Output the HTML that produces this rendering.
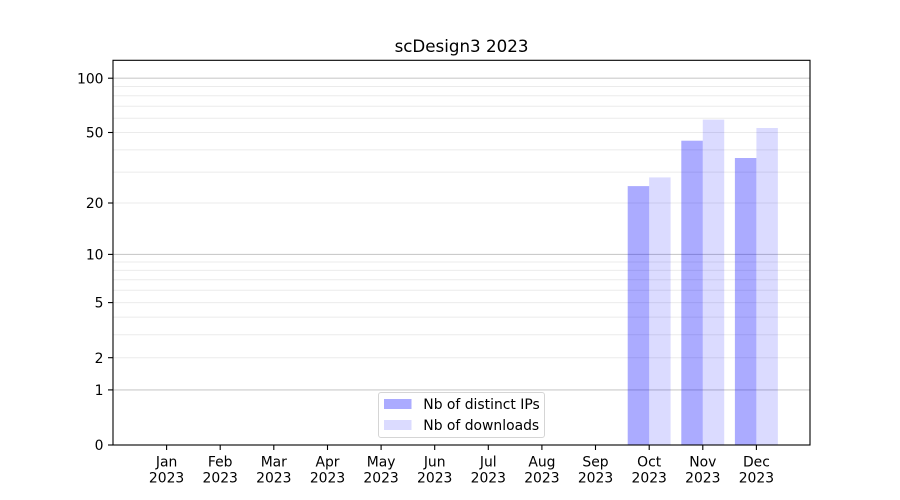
<!DOCTYPE html>
<html>
<head>
<meta charset="utf-8">
<style>
html,body{margin:0;padding:0;background:#fff;}
svg{display:block;}
text{font-family:"DejaVu Sans","Liberation Sans",sans-serif;fill:#000;}
</style>
</head>
<body>
<svg width="900" height="500" viewBox="0 0 900 500" xmlns="http://www.w3.org/2000/svg">
<rect x="0" y="0" width="900" height="500" fill="#fff"/>
<!-- minor gridlines -->
<g stroke="#ebebeb" stroke-width="1">
<line x1="113" x2="810" y1="357.7" y2="357.7"/>
<line x1="113" x2="810" y1="334.8" y2="334.8"/>
<line x1="113" x2="810" y1="317.1" y2="317.1"/>
<line x1="113" x2="810" y1="302.6" y2="302.6"/>
<line x1="113" x2="810" y1="290.3" y2="290.3"/>
<line x1="113" x2="810" y1="279.7" y2="279.7"/>
<line x1="113" x2="810" y1="270.4" y2="270.4"/>
<line x1="113" x2="810" y1="262.0" y2="262.0"/>
<line x1="113" x2="810" y1="203.0" y2="203.0"/>
<line x1="113" x2="810" y1="172.1" y2="172.1"/>
<line x1="113" x2="810" y1="149.9" y2="149.9"/>
<line x1="113" x2="810" y1="132.5" y2="132.5"/>
<line x1="113" x2="810" y1="118.3" y2="118.3"/>
<line x1="113" x2="810" y1="106.2" y2="106.2"/>
<line x1="113" x2="810" y1="95.75" y2="95.75"/>
<line x1="113" x2="810" y1="86.5" y2="86.5"/>
</g>
<!-- major gridlines -->
<g stroke="#cbcbcb" stroke-width="1.1">
<line x1="113" x2="810" y1="389.9" y2="389.9"/>
<line x1="113" x2="810" y1="254.4" y2="254.4"/>
<line x1="113" x2="810" y1="78.2" y2="78.2"/>
</g>
<!-- bars -->
<g>
<rect x="627.7" y="186.1" width="21.45" height="258.9" fill="#0000ff" fill-opacity="0.33"/>
<rect x="649.15" y="177.4" width="21.45" height="267.6" fill="#0000ff" fill-opacity="0.14"/>
<rect x="681.3" y="140.7" width="21.45" height="304.3" fill="#0000ff" fill-opacity="0.33"/>
<rect x="702.77" y="119.6" width="21.45" height="325.4" fill="#0000ff" fill-opacity="0.14"/>
<rect x="734.9" y="158.0" width="21.45" height="287.0" fill="#0000ff" fill-opacity="0.33"/>
<rect x="756.4" y="128.0" width="21.45" height="317.0" fill="#0000ff" fill-opacity="0.14"/>
</g>
<!-- axes frame -->
<rect x="113" y="60.3" width="697" height="384.7" fill="none" stroke="#000" stroke-width="1.1"/>
<!-- y ticks -->
<g stroke="#000" stroke-width="1.1">
<line x1="108" x2="113" y1="445" y2="445"/>
<line x1="108" x2="113" y1="389.9" y2="389.9"/>
<line x1="108" x2="113" y1="357.7" y2="357.7"/>
<line x1="108" x2="113" y1="302.6" y2="302.6"/>
<line x1="108" x2="113" y1="254.4" y2="254.4"/>
<line x1="108" x2="113" y1="203.0" y2="203.0"/>
<line x1="108" x2="113" y1="132.5" y2="132.5"/>
<line x1="108" x2="113" y1="78.2" y2="78.2"/>
</g>
<g font-size="13.9" text-anchor="end">
<text x="103.5" y="450">0</text>
<text x="103.5" y="395">1</text>
<text x="103.5" y="362.8">2</text>
<text x="103.5" y="307.7">5</text>
<text x="103.5" y="259.5">10</text>
<text x="103.5" y="208.1">20</text>
<text x="103.5" y="137.6">50</text>
<text x="103.5" y="83.3">100</text>
</g>
<!-- x ticks -->
<g stroke="#000" stroke-width="1.1">
<line x1="166.6" x2="166.6" y1="445" y2="450"/>
<line x1="220.2" x2="220.2" y1="445" y2="450"/>
<line x1="273.8" x2="273.8" y1="445" y2="450"/>
<line x1="327.5" x2="327.5" y1="445" y2="450"/>
<line x1="381.1" x2="381.1" y1="445" y2="450"/>
<line x1="434.7" x2="434.7" y1="445" y2="450"/>
<line x1="488.3" x2="488.3" y1="445" y2="450"/>
<line x1="541.9" x2="541.9" y1="445" y2="450"/>
<line x1="595.5" x2="595.5" y1="445" y2="450"/>
<line x1="649.2" x2="649.2" y1="445" y2="450"/>
<line x1="702.8" x2="702.8" y1="445" y2="450"/>
<line x1="756.4" x2="756.4" y1="445" y2="450"/>
</g>
<g font-size="13.9" text-anchor="middle">
<text x="166.6" y="466.5">Jan</text><text x="166.6" y="482.5">2023</text>
<text x="220.2" y="466.5">Feb</text><text x="220.2" y="482.5">2023</text>
<text x="273.8" y="466.5">Mar</text><text x="273.8" y="482.5">2023</text>
<text x="327.5" y="466.5">Apr</text><text x="327.5" y="482.5">2023</text>
<text x="381.1" y="466.5">May</text><text x="381.1" y="482.5">2023</text>
<text x="434.7" y="466.5">Jun</text><text x="434.7" y="482.5">2023</text>
<text x="488.3" y="466.5">Jul</text><text x="488.3" y="482.5">2023</text>
<text x="541.9" y="466.5">Aug</text><text x="541.9" y="482.5">2023</text>
<text x="595.5" y="466.5">Sep</text><text x="595.5" y="482.5">2023</text>
<text x="649.2" y="466.5">Oct</text><text x="649.2" y="482.5">2023</text>
<text x="702.8" y="466.5">Nov</text><text x="702.8" y="482.5">2023</text>
<text x="756.4" y="466.5">Dec</text><text x="756.4" y="482.5">2023</text>
</g>
<!-- title -->
<text x="461.5" y="52" font-size="16.7" text-anchor="middle">scDesign3 2023</text>
<!-- legend -->
<rect x="378.5" y="392.5" width="166" height="45" rx="2.5" ry="2.5" fill="#fff" fill-opacity="0.8" stroke="#d5d5d5" stroke-width="1"/>
<rect x="384" y="399" width="27.5" height="10" fill="#0000ff" fill-opacity="0.33"/>
<rect x="384" y="420" width="27.5" height="10" fill="#0000ff" fill-opacity="0.14"/>
<text x="423.3" y="409" font-size="13.9">Nb of distinct IPs</text>
<text x="423.3" y="430" font-size="13.9">Nb of downloads</text>
</svg>
</body>
</html>
